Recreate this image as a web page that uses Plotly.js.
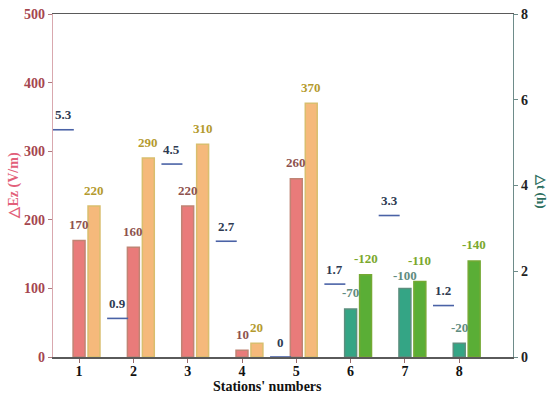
<!DOCTYPE html>
<html>
<head>
<meta charset="utf-8">
<script src="https://cdn.plot.ly/plotly-3.0.1.min.js"></script>
<style>html,body{margin:0;padding:0;background:#fff;}#chart{width:550px;height:397px;}</style>
</head>
<body>
<div id="chart"></div>
<script>
// Data
var stations = [1, 2, 3, 4, 5, 6, 7, 8];
var ezFirst  = [170, 160, 220, 10, 260, -70, -100, -20];     // first bar of each station (V/m)
var ezSecond = [220, 290, 310, 20, 370, -120, -110, -140];   // second bar of each station (V/m)
var deltaT   = [5.3, 0.9, 4.5, 2.7, 0, 1.7, 3.3, 1.2];       // Δt (h)
var tickVals = [0, 100, 200, 300, 400, 500];
var tickVals2 = [0, 2, 4, 6, 8];

var FONT = "Liberation Serif, Times New Roman, serif";
var W = 0.22, OFF2 = 0.275, OFFT = -0.29;

function abs(a){ return a.map(function(v){ return Math.abs(v); }); }
function shift(a, d){ return a.map(function(v){ return v + d; }); }
function pick(a, pos, neg){ return a.map(function(v){ return v >= 0 ? pos : neg; }); }

var traces = [
  {
    type: 'bar', x: stations, y: abs(ezFirst), width: W, offset: -W/2,
    marker: { color: pick(ezFirst, '#E97B7A', '#34A585'),
              line: { color: pick(ezFirst, '#C08474', '#5C8E7E'), width: 1.5 } },
    hoverinfo: 'none', showlegend: false
  },
  {
    type: 'bar', x: stations, y: abs(ezSecond), width: W, offset: OFF2 - W/2,
    marker: { color: pick(ezSecond, '#F5B97B', '#5AAE36'),
              line: { color: pick(ezSecond, '#D9BE6E', '#74A934'), width: 1.5 } },
    hoverinfo: 'none', showlegend: false
  },
  {
    type: 'scatter', mode: 'markers', x: shift(stations, OFFT), y: deltaT, yaxis: 'y2',
    marker: { symbol: 'line-ew-open', size: 15, color: '#4A62A6', line: { color: '#4A62A6', width: 1.6 } },
    hoverinfo: 'none', showlegend: false
  }
];

var annotations = [];
stations.forEach(function(s, i){
  var close = Math.abs(Math.abs(ezSecond[i]) - Math.abs(ezFirst[i])) < 15 && Math.abs(ezFirst[i]) > 50;
  annotations.push({ x: s, y: Math.abs(ezFirst[i]), xref: 'x', yref: 'y', text: String(ezFirst[i]),
    showarrow: false, yshift: close ? 13 : 16,
    font: { family: FONT, size: 13, color: ezFirst[i] >= 0 ? '#8E524E' : '#5F8C80', weight: 'bold' } });
  annotations.push({ x: s + OFF2, y: Math.abs(ezSecond[i]), xref: 'x', yref: 'y', text: String(ezSecond[i]),
    showarrow: false, yshift: close ? 21 : 16,
    font: { family: FONT, size: 13, color: ezSecond[i] >= 0 ? '#B49A2E' : '#7AA82C', weight: 'bold' } });
  annotations.push({ x: s + OFFT, y: deltaT[i], xref: 'x', yref: 'y2', text: String(deltaT[i]),
    showarrow: false, yshift: 15, font: { family: FONT, size: 13, color: '#2E3A52', weight: 'bold' } });
});
annotations.push({ x: 0.467, y: 0, xref: 'paper', yref: 'paper', xanchor: 'center', yanchor: 'middle',
  text: 'Stations\' numbers', showarrow: false, yshift: -29,
  font: { family: FONT, size: 14, color: '#111', weight: 'bold' } });
annotations.push({ x: 0, y: 0.5, xref: 'paper', yref: 'paper', xanchor: 'center', yanchor: 'middle',
  text: '△Ez (V/m)', textangle: -90,
  showarrow: false, xshift: -40, font: { family: FONT, size: 14, color: '#E2607A', weight: 'bold' } });
annotations.push({ x: 1, y: 0.484, xref: 'paper', yref: 'paper', xanchor: 'center', yanchor: 'middle',
  text: '△t (h)', textangle: 90,
  showarrow: false, xshift: 28, font: { family: FONT, size: 13, color: '#2C6E5E', weight: 'bold' } });

var layout = {
  width: 550, height: 397,
  margin: { l: 53, r: 37, t: 14, b: 40 },
  paper_bgcolor: '#fff', plot_bgcolor: '#fff',
  barmode: 'overlay',
  xaxis: {
    range: [0.52, 8.99], tickvals: stations, ticktext: stations.map(String),
    showgrid: false, zeroline: false, showline: true, linecolor: '#5a5a5a', linewidth: 1.5, mirror: true,
    ticks: 'outside', ticklen: 4, tickcolor: '#9a6a6a', ticklabelstandoff: -3,
    tickfont: { family: FONT, size: 14, color: '#111', weight: 'bold' }
  },
  yaxis: {
    range: [0, 500], tickvals: tickVals, showgrid: false, zeroline: false,
    showline: true, linecolor: '#D9A8AE', linewidth: 1.2,
    ticks: 'outside', ticklen: 4, tickcolor: '#B07A80',
    tickfont: { family: FONT, size: 14, color: '#A5464E', weight: 'bold' }
  },
  yaxis2: {
    range: [0, 8], tickvals: tickVals2, overlaying: 'y', side: 'right', showgrid: false, zeroline: false,
    showline: true, linecolor: '#6E8C8A', linewidth: 1.2,
    ticks: 'outside', ticklen: 4, tickcolor: '#6E8C8A',
    tickfont: { family: FONT, size: 14, color: '#222', weight: 'bold' }
  },
  annotations: annotations
};

Plotly.newPlot('chart', traces, layout, { displayModeBar: false, staticPlot: true });
</script>
</body>
</html>
